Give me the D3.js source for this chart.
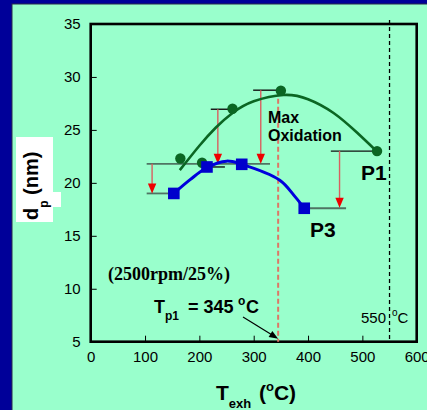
<!DOCTYPE html>
<html>
<head>
<meta charset="utf-8">
<script src="https://cdn.jsdelivr.net/npm/d3@7"></script>
<style>
  html, body { margin: 0; padding: 0; background: #000099; }
  svg { display: block; }
  text { font-family: "Liberation Sans", Arial, sans-serif; }
</style>
</head>
<body>
<svg id="chart" width="427" height="410"></svg>
<script>
// Axis ticks
const xTicks = [0, 100, 200, 300, 400, 500, 600];
const yTicks = [5, 10, 15, 20, 25, 30, 35];

// Measured particle diameter, P1 (circles) and P3 (squares)
const p1Temp = [165, 205, 261, 350, 527];
const p1Dp   = [22.3, 21.9, 27.0, 28.7, 23.0];
const p3Temp = [153, 214, 278, 393];
const p3Dp   = [19.0, 21.5, 21.75, 17.6];

// Trend curves through each series
const p1FitTemp = [164, 200, 230, 261, 300, 355, 400, 447, 490, 527];
const p1FitDp   = [21.2, 23.5, 25.2, 26.6, 27.7, 28.3, 27.9, 26.6, 24.75, 22.95];
const p3FitTemp = [153, 183, 214, 250, 278, 348, 376, 393];
const p3FitDp   = [19.0, 20.3, 21.45, 22.05, 21.75, 20.25, 18.7, 17.6];

// Reference levels at P1 values (upper) and P3 values (lower)
const upperStart = [221, 299, 442, 213];
const upperEnd   = [256, 348, 527, 247];
const upperDp    = [26.95, 28.75, 23.0, 21.5];
const lowerStart = [103, 103, 393];
const lowerEnd   = [330, 153, 470];
const lowerDp    = [21.8, 19.0, 17.6];

// Drop from P1 level to P3 level
const dropTemp = [113, 234, 313, 458];
const dropFrom = [21.8, 26.95, 28.75, 23.0];
const dropTo   = [19.0, 21.8, 21.8, 17.65];

// Temperatures marked by vertical lines
const maxOxTemp = 345;
const limitTemp = 550;

const svg = d3.select("#chart");

// Panel
svg.append("rect").attr("x", 12).attr("y", 4).attr("width", 430).attr("height", 420)
  .attr("fill", "#99ffcc").attr("stroke", "#2b2b4a").attr("stroke-width", 1);

const plotLeft = 90.7, plotRight = 416.7, plotTop = 24, plotBottom = 341.7;
const x = d3.scaleLinear().domain([0, 600]).range([plotLeft, plotRight]);
const y = d3.scaleLinear().domain([5, 35]).range([plotBottom, plotTop]);

// Axes (ticks point inward)
const gx = svg.append("g").attr("transform", `translate(0,${plotBottom})`)
  .call(d3.axisBottom(x).tickValues(xTicks).tickSizeInner(-6).tickSizeOuter(0).tickPadding(10));
const gy = svg.append("g").attr("transform", `translate(${plotLeft},0)`)
  .call(d3.axisLeft(y).tickValues(yTicks).tickSizeInner(-6).tickSizeOuter(0).tickPadding(10));
[gx, gy].forEach(g => {
  g.select(".domain").remove();
  g.selectAll("line").attr("stroke", "#000").attr("stroke-width", 1);
  g.selectAll("text").attr("fill", "#000")
    .style("font-family", '"Liberation Sans", Arial, sans-serif').style("font-size", "15px");
});

// Frame
svg.append("rect").attr("x", plotLeft).attr("y", plotTop)
  .attr("width", plotRight - plotLeft).attr("height", plotBottom - plotTop)
  .attr("fill", "none").attr("stroke", "#000").attr("stroke-width", 2.6);

// 550 °C limit
svg.append("line").attr("x1", x(limitTemp)).attr("x2", x(limitTemp))
  .attr("y1", 20).attr("y2", plotBottom)
  .attr("stroke", "#000").attr("stroke-width", 1.3).attr("stroke-dasharray", "4,3");

// Max oxidation line
svg.append("line").attr("x1", x(maxOxTemp)).attr("x2", x(maxOxTemp))
  .attr("y1", y(28.7)).attr("y2", plotBottom)
  .attr("stroke", "#dd7766").attr("stroke-width", 2).attr("stroke-dasharray", "5,3");

// Reference levels
lowerDp.forEach((v, i) => {
  svg.append("line").attr("x1", x(lowerStart[i])).attr("x2", x(lowerEnd[i]))
    .attr("y1", y(v)).attr("y2", y(v)).attr("stroke", "#4f7463").attr("stroke-width", 1.8);
});
upperDp.forEach((v, i) => {
  svg.append("line").attr("x1", x(upperStart[i])).attr("x2", x(upperEnd[i]))
    .attr("y1", y(v)).attr("y2", y(v)).attr("stroke", "#111").attr("stroke-width", 1.4);
});

// Drop arrows
dropTemp.forEach((t, i) => {
  const xx = x(t), y0 = y(dropFrom[i]), y1 = y(dropTo[i]);
  svg.append("line").attr("x1", xx).attr("x2", xx).attr("y1", y0).attr("y2", y1 - 8)
    .attr("stroke", "#d95f5f").attr("stroke-width", 1.4);
  svg.append("path").attr("d", `M${xx - 4.2},${y1 - 10}L${xx + 4.2},${y1 - 10}L${xx},${y1}Z`)
    .attr("fill", "#ee0000");
});

// Trend curves
const p1Line = d3.line().x(i => x(p1FitTemp[i])).y(i => y(p1FitDp[i])).curve(d3.curveNatural);
svg.append("path").attr("d", p1Line(d3.range(p1FitTemp.length)))
  .attr("fill", "none").attr("stroke", "#0b6623").attr("stroke-width", 2.6);
const p3Line = d3.line().x(i => x(p3FitTemp[i])).y(i => y(p3FitDp[i])).curve(d3.curveCatmullRom);
svg.append("path").attr("d", p3Line(d3.range(p3FitTemp.length)))
  .attr("fill", "none").attr("stroke", "#0000dd").attr("stroke-width", 3);

// Markers
svg.selectAll(".p1").data(d3.range(p1Temp.length)).join("circle")
  .attr("cx", i => x(p1Temp[i])).attr("cy", i => y(p1Dp[i])).attr("r", 5.2)
  .attr("fill", "#0b6623");
svg.selectAll(".p3").data(d3.range(p3Temp.length)).join("rect")
  .attr("x", i => x(p3Temp[i]) - 5.8).attr("y", i => y(p3Dp[i]) - 5.8)
  .attr("width", 11.6).attr("height", 11.6).attr("fill", "#0000cc");

// Annotations
const bold = (sel) => sel.attr("font-weight", "bold").attr("fill", "#000");

const mo = svg.append("text").attr("font-size", 16).call(bold);
mo.append("tspan").attr("x", 268).attr("y", 123).text("Max");
mo.append("tspan").attr("x", 268).attr("y", 141).text("Oxidation");

svg.append("text").attr("x", 361).attr("y", 180).attr("font-size", 21).call(bold).text("P1");
svg.append("text").attr("x", 310).attr("y", 237).attr("font-size", 21).call(bold).text("P3");

svg.append("text").attr("x", 108).attr("y", 280).attr("font-size", 18)
  .style("font-family", '"Liberation Serif", "Times New Roman", serif')
  .call(bold).text("(2500rpm/25%)");

const tp = svg.append("text").attr("x", 154).attr("y", 313).attr("font-size", 18).call(bold);
tp.append("tspan").text("T");
tp.append("tspan").attr("font-size", 12).attr("dy", 7).text("p1");
tp.append("tspan").attr("x", 188).attr("dy", -7).text("= 345");
tp.append("tspan").attr("x", 238).attr("font-size", 12).attr("dy", -8).text("o");
tp.append("tspan").attr("x", 246).attr("dy", 8).text("C");

// Pointer to the max oxidation temperature
const tipX = x(maxOxTemp), tipY = plotBottom - 3;
const tailX = 243, tailY = 317;
const ang = Math.atan2(tipY - tailY, tipX - tailX);
svg.append("line").attr("x1", tailX).attr("y1", tailY)
  .attr("x2", tipX - 7 * Math.cos(ang)).attr("y2", tipY - 7 * Math.sin(ang))
  .attr("stroke", "#000").attr("stroke-width", 1.2);
const ah = [[tipX, tipY],
  [tipX - 9 * Math.cos(ang) + 3.5 * Math.sin(ang), tipY - 9 * Math.sin(ang) - 3.5 * Math.cos(ang)],
  [tipX - 9 * Math.cos(ang) - 3.5 * Math.sin(ang), tipY - 9 * Math.sin(ang) + 3.5 * Math.cos(ang)]];
svg.append("path").attr("d", "M" + ah.join("L") + "Z").attr("fill", "#000");

const lim = svg.append("text").attr("x", 361).attr("y", 323).attr("font-size", 15).attr("fill", "#000");
lim.append("tspan").text("550");
lim.append("tspan").attr("x", 392).attr("font-size", 10).attr("dy", -7).text("o");
lim.append("tspan").attr("x", 397.5).attr("dy", 7).text("C");

// Axis titles
const xt = svg.append("text").attr("x", 216).attr("y", 400).attr("font-size", 21).call(bold);
xt.append("tspan").text("T");
xt.append("tspan").attr("font-size", 13).attr("dy", 8).text("exh");
xt.append("tspan").attr("x", 259).attr("dy", -8).text("(");
xt.append("tspan").attr("font-size", 13).attr("dy", -9).text("o");
xt.append("tspan").attr("dy", 9).text("C)");

svg.append("rect").attr("x", 16).attr("y", 137).attr("width", 37).attr("height", 85).attr("fill", "#fff");
svg.append("rect").attr("x", 16).attr("y", 192).attr("width", 45).attr("height", 15).attr("fill", "#fff");
const yt = svg.append("text").attr("transform", "translate(38,220) rotate(-90)")
  .attr("font-size", 20).call(bold);
yt.append("tspan").text("d");
yt.append("tspan").attr("font-size", 12).attr("dy", 10).text("p");
yt.append("tspan").attr("dy", -10).text(" (nm)");
</script>
</body>
</html>
